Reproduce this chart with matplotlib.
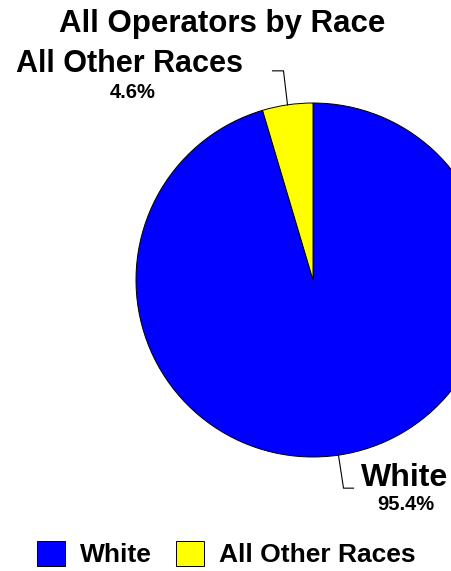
import matplotlib
matplotlib.use("Agg")
import matplotlib.pyplot as plt
import numpy as np
from matplotlib.lines import Line2D

plt.rcParams['font.family'] = ['Liberation Sans', 'DejaVu Sans']

categories = ["White", "All Other Races"]
values = [95.4, 4.6]
colors = ["#0000FF", "#FFFF00"]
title = "All Operators by Race"

W, H = 451, 571
fig = plt.figure(figsize=(W / 100, H / 100), dpi=100)

cx, cy, r = 313, 280, 177
ax = fig.add_axes([(cx - r) / W, 1 - (cy + r) / H, 2 * r / W, 2 * r / H])
wedges, _ = ax.pie(values, colors=colors, startangle=90, counterclock=False,
                   wedgeprops=dict(edgecolor="black", linewidth=0.7))
ax.set_xlim(-1, 1)
ax.set_ylim(-1, 1)
ax.set_aspect("equal")
ax.axis("off")


def px(x, y):
    return (x / W, 1 - y / H)


fig.text(*px(222, 32), title, ha="center", va="baseline",
         fontsize=22.5, fontweight="bold")

# labels with leader lines
label_cfg = {
    "All Other Races": dict(dy=-34, dx=-4, hx=-11, tx=130, ty=72.5, px_=133, py=98, fs=22),
    "White": dict(dy=33, dx=5, hx=10, tx=405, ty=486, px_=406, py=510.5, fs=23),
}
for w, cat, v in zip(wedges, categories, values):
    ang = np.deg2rad((w.theta1 + w.theta2) / 2)
    sx = cx + r * np.cos(ang)
    sy = cy - r * np.sin(ang)
    c = label_cfg[cat]
    mx, my = sx + c["dx"], sy + c["dy"]
    ex = mx + c["hx"]
    xs = [sx, mx, ex]
    ys = [sy, my, my]
    pts = [px(a, b) for a, b in zip(xs, ys)]
    fig.add_artist(Line2D([p[0] for p in pts], [p[1] for p in pts],
                          color="black", linewidth=0.8, transform=fig.transFigure))
    fig.text(*px(c["tx"], c["ty"]), cat, ha="center", va="baseline",
             fontsize=c["fs"], fontweight="bold")
    fig.text(*px(c["px_"], c["py"]), f"{v:.1f}%", ha="center", va="baseline",
             fontsize=14.5, fontweight="bold")

fs = 19
fig.legend(wedges, categories, loc="center", bbox_to_anchor=(226 / W, 1 - 554 / H),
           ncol=2, frameon=False, prop=dict(size=fs, weight="bold"),
           handlelength=1.07, handleheight=1.07, handletextpad=0.55,
           columnspacing=0.93, borderpad=0, borderaxespad=0)

fig.savefig("out.png", dpi=100)
